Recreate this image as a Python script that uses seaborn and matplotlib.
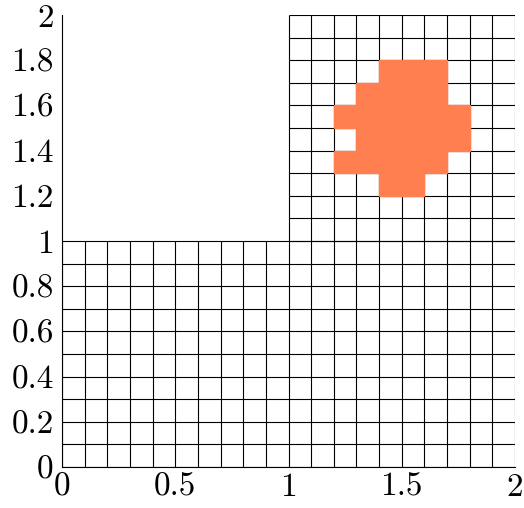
import numpy as np
import matplotlib
matplotlib.use("Agg")
import matplotlib.pyplot as plt
import seaborn as sns

# Mesh definition (L-shaped domain, spacing 0.1)
h = 0.1
lower_x = [0.0, 2.0]
lower_y = [0.0, 1.0]
upper_x = [1.0, 2.0]
upper_y = [1.0, 2.0]

# Marked (orange) cells, row by row
orange_row_y = [1.7, 1.6, 1.5, 1.4, 1.3, 1.2]
orange_x_start = [1.4, 1.3, 1.2, 1.3, 1.2, 1.4]
orange_x_end = [1.7, 1.7, 1.8, 1.8, 1.7, 1.6]

xticks = [0, 0.5, 1, 1.5, 2]
xticklabels = ["0", "0.5", "1", "1.5", "2"]
yticks = [0, 0.2, 0.4, 0.6, 0.8, 1, 1.2, 1.4, 1.6, 1.8, 2]
yticklabels = ["0", "0.2", "0.4", "0.6", "0.8", "1", "1.2", "1.4", "1.6", "1.8", "2"]

sns.set_style("white")
plt.rcParams["font.family"] = ["cmr10", "DejaVu Serif"]
plt.rcParams["axes.formatter.use_mathtext"] = True

fig = plt.figure(figsize=(5.24, 5.08), dpi=100)
ax = fig.add_axes([62 / 524, 41 / 508, 453 / 524, 452 / 508])

lw = 0.8
# Lower rectangle
nx = int(round((lower_x[1] - lower_x[0]) / h))
ny = int(round((lower_y[1] - lower_y[0]) / h))
xs = np.linspace(lower_x[0], lower_x[1], nx + 1)
ys = np.linspace(lower_y[0], lower_y[1], ny + 1)
ax.vlines(xs, lower_y[0], lower_y[1], colors="black", linewidth=lw, zorder=1)
ax.hlines(ys, lower_x[0], lower_x[1], colors="black", linewidth=lw, zorder=1)
# Upper rectangle
nx = int(round((upper_x[1] - upper_x[0]) / h))
ny = int(round((upper_y[1] - upper_y[0]) / h))
xs = np.linspace(upper_x[0], upper_x[1], nx + 1)
ys = np.linspace(upper_y[0], upper_y[1], ny + 1)
ax.vlines(xs, upper_y[0], upper_y[1], colors="black", linewidth=lw, zorder=1)
ax.hlines(ys, upper_x[0], upper_x[1], colors="black", linewidth=lw, zorder=1)

# Orange cells
widths = [e - s for s, e in zip(orange_x_start, orange_x_end)]
ax.barh(orange_row_y, widths, height=h, left=orange_x_start, align="edge",
        color="#FF7F50", edgecolor="#FF7F50", linewidth=1.0, zorder=2)

ax.set_xlim(0, 2)
ax.set_ylim(0, 2)
ax.set_xticks(xticks)
ax.set_xticklabels(xticklabels)
ax.set_yticks(yticks)
ax.set_yticklabels(yticklabels)
ax.tick_params(axis="both", direction="in", length=4, width=0.8, labelsize=24,
               colors="black")
ax.tick_params(axis="x", pad=4)
ax.tick_params(axis="y", pad=6)

for side in ["top", "right"]:
    ax.spines[side].set_visible(False)
for side in ["left", "bottom"]:
    ax.spines[side].set_color("black")
    ax.spines[side].set_linewidth(0.8)

fig.savefig("out.png", dpi=100)
